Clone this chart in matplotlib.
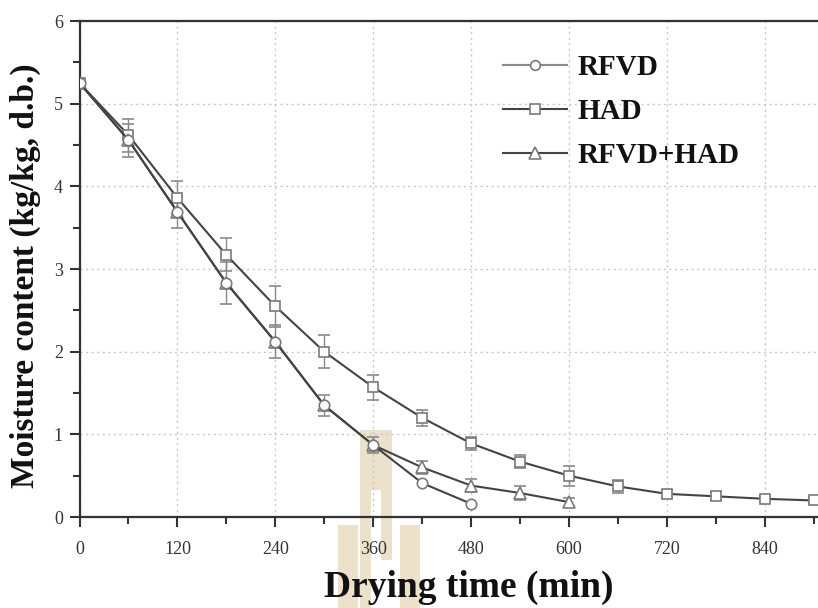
import matplotlib
matplotlib.use("Agg")
import matplotlib.pyplot as plt
from matplotlib.patches import Rectangle
from matplotlib.ticker import MultipleLocator
import numpy as np

# ---- data ----
time_rfvd = [0, 60, 120, 180, 240, 300, 360, 420, 480]
mc_rfvd = [5.25, 4.56, 3.69, 2.83, 2.12, 1.35, 0.87, 0.41, 0.16]

time_had = [0, 60, 120, 180, 240, 300, 360, 420, 480, 540, 600, 660, 720, 780, 840, 900]
mc_had = [5.25, 4.62, 3.86, 3.17, 2.55, 2.00, 1.57, 1.20, 0.89, 0.67, 0.50, 0.37, 0.28, 0.25, 0.22, 0.20]
err_had = [0.0, 0.2, 0.2, 0.2, 0.25, 0.2, 0.15, 0.1, 0.08, 0.08, 0.12, 0.08, 0.05, 0.05, 0.04, 0.04]

time_comb = [0, 60, 120, 180, 240, 300, 360, 420, 480, 540, 600]
mc_comb = [5.25, 4.56, 3.69, 2.83, 2.12, 1.35, 0.87, 0.60, 0.38, 0.29, 0.18]
err_comb = [0.0, 0.2, 0.2, 0.25, 0.2, 0.13, 0.1, 0.08, 0.08, 0.08, 0.05]

x_ticks = [0, 120, 240, 360, 480, 600, 720, 840]
y_ticks = [0, 1, 2, 3, 4, 5, 6]
labels = ["RFVD", "HAD", "RFVD+HAD"]

serif = ["Liberation Serif", "DejaVu Serif"]
W, H = 818, 608
fig = plt.figure(figsize=(W / 100, H / 100), dpi=100)

# watermark (logo-like, light tan) in pixel coords
wm = "#ece2cb"
def px_rect(x0, y0, x1, y1):
    fig.patches.append(Rectangle((x0 / W, 1 - y1 / H), (x1 - x0) / W, (y1 - y0) / H,
                                 transform=fig.transFigure, color=wm, zorder=-5, lw=0))
px_rect(360, 430, 392, 490)
px_rect(360, 490, 371, 525)
px_rect(381, 490, 392, 525)
px_rect(338, 525, 358, 608)
px_rect(400, 525, 420, 608)
px_rect(360, 525, 371, 608)
px_rect(381, 525, 392, 560)

ax = fig.add_axes([79.5 / W, 1 - 517 / H, (822 - 79.5) / W, (517 - 21) / H])
ax.set_facecolor("none")

ax.set_xlim(0, 910)
ax.set_ylim(0, 6)

line_dark = "#444444"
line_light = "#8a8a8a"
mk_edge = "#7a7a7a"
err_col = "#8a8a8a"

ax.errorbar(time_had, mc_had, yerr=err_had, color=line_dark, lw=1.5, marker="s", ms=7.5,
            mfc="white", mec=mk_edge, mew=1.2, ecolor=err_col, elinewidth=1.0, capsize=4,
            capthick=1.0, label=labels[1], zorder=3)
ax.errorbar(time_comb, mc_comb, yerr=err_comb, color=line_dark, lw=1.5, marker="^", ms=8.5,
            mfc="white", mec=mk_edge, mew=1.2, ecolor=err_col, elinewidth=1.0, capsize=4,
            capthick=1.0, label=labels[2], zorder=3)
ax.plot(time_rfvd, mc_rfvd, color=line_dark, lw=1.5, marker="o", ms=7.5,
        mfc="white", mec=mk_edge, mew=1.2, zorder=4)

# legend handles
h_rfvd, = ax.plot([], [], color=line_light, lw=1.5, marker="o", ms=7, mfc="white", mec=mk_edge, mew=1.2)
h_had, = ax.plot([], [], color=line_dark, lw=1.5, marker="s", ms=7, mfc="white", mec=mk_edge, mew=1.2)
h_comb, = ax.plot([], [], color=line_dark, lw=1.5, marker="^", ms=8, mfc="white", mec=mk_edge, mew=1.2)
leg = fig.legend([h_rfvd, h_had, h_comb], labels, loc="upper left",
                 bbox_to_anchor=(503 / W, 1 - 54 / H), frameon=False,
                 prop={"family": serif, "weight": "bold", "size": 21},
                 handlelength=2.2, handletextpad=0.35, labelspacing=0.58,
                 borderpad=0, borderaxespad=0)
for t in leg.get_texts():
    t.set_color("#111111")

ax.set_xticks(x_ticks)
ax.set_yticks(y_ticks)
ax.xaxis.set_minor_locator(MultipleLocator(60))
ax.yaxis.set_minor_locator(MultipleLocator(0.5))
ax.grid(True, which="major", linestyle=(0, (1.5, 2.5)), color="#c8c8c8", lw=1.0)
ax.set_axisbelow(True)

for s in ["left", "bottom", "top"]:
    ax.spines[s].set_linewidth(1.6)
    ax.spines[s].set_color("#333333")
ax.spines["right"].set_visible(False)

ax.tick_params(axis="both", which="major", direction="out", length=7, width=1.5,
               color="#333333", labelsize=13, pad=10)
ax.tick_params(axis="both", which="minor", direction="out", length=5, width=1.5, color="#333333")
ax.tick_params(axis="y", pad=5)
for lab in ax.get_xticklabels() + ax.get_yticklabels():
    lab.set_family(serif)
    lab.set_color("#333333")

ax.set_xlabel("Drying time (min)", family=serif, weight="bold", size=27, color="#111111")
ax.xaxis.set_label_coords((469 - 79.5) / (822 - 79.5), (517 - 570) / (517 - 21))
ax.set_ylabel("Moisture content (kg/kg, d.b.)", family=serif, weight="bold", size=24, color="#111111")
ax.yaxis.set_label_coords((41 - 79.5) / (822 - 79.5), (517 - 276) / (517 - 21))

fig.savefig("out.png", dpi=100)
